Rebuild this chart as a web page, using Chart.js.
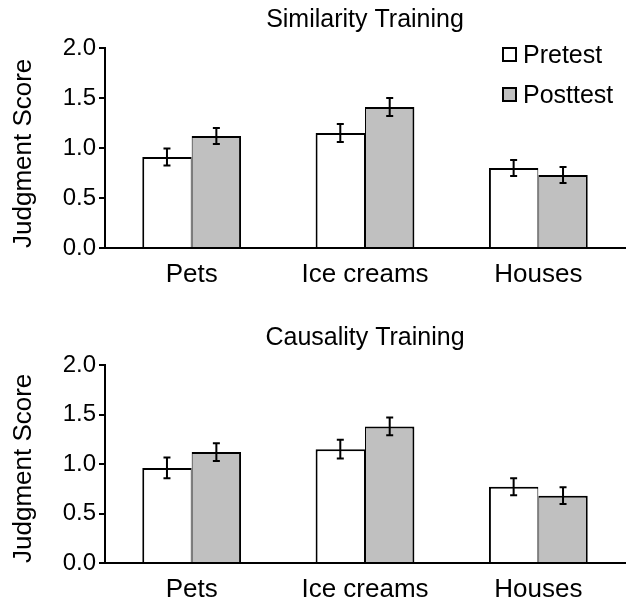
<!DOCTYPE html>
<html>
<head>
<meta charset="utf-8">
<script src="https://cdn.jsdelivr.net/npm/chart.js@4.4.1/dist/chart.umd.min.js"></script>
<style>
  html, body { margin: 0; padding: 0; background: #fff; }
  .panel { position: relative; width: 632px; }
</style>
</head>
<body>
<div class="panel" style="height:300px"><canvas id="simChart" width="632" height="300"></canvas></div>
<div class="panel" style="height:301px"><canvas id="causChart" width="632" height="301"></canvas></div>
<script>
// categories and series
var categories = ['Pets', 'Ice creams', 'Houses'];
var seriesNames = ['Pretest', 'Posttest'];
var yTicks = [0, 0.5, 1.0, 1.5, 2.0];

var simPre = [0.91, 1.15, 0.80];
var simPreErr = [0.085, 0.09, 0.08];
var simPost = [1.12, 1.41, 0.73];
var simPostErr = [0.08, 0.09, 0.08];

var causPre = [0.96, 1.15, 0.77];
var causPreErr = [0.105, 0.095, 0.085];
var causPost = [1.12, 1.38, 0.68];
var causPostErr = [0.09, 0.09, 0.085];

(function () {
  'use strict';

  var FONT = "'Liberation Sans', Arial, Helvetica, sans-serif";
  var fillColors = ['#ffffff', '#c0c0c0'];

  Chart.defaults.font.family = FONT;
  Chart.defaults.color = '#000';

  /* ---- error bars drawn from dataset.errors through the y scale ---- */
  var errorBars = {
    id: 'errorBars',
    afterDatasetsDraw: function (chart) {
      var ctx = chart.ctx;
      var y = chart.scales.y;
      ctx.save();
      ctx.strokeStyle = '#000';
      ctx.lineWidth = 2;
      chart.data.datasets.forEach(function (ds, di) {
        var meta = chart.getDatasetMeta(di);
        meta.data.forEach(function (bar, i) {
          var v = ds.data[i], e = ds.errors[i];
          var yt = y.getPixelForValue(v + e), yb = y.getPixelForValue(v - e);
          var cap = 3.5;
          ctx.beginPath();
          ctx.moveTo(bar.x, yt); ctx.lineTo(bar.x, yb);
          ctx.moveTo(bar.x - cap, yt); ctx.lineTo(bar.x + cap, yt);
          ctx.moveTo(bar.x - cap, yb); ctx.lineTo(bar.x + cap, yb);
          ctx.stroke();
        });
      });
      ctx.restore();
    }
  };

  /* ---- legend inside top-right of the chart area ---- */
  var boxLegend = {
    id: 'boxLegend',
    afterDraw: function (chart, args, opts) {
      if (!opts.show) return;
      var ctx = chart.ctx, area = chart.chartArea;
      ctx.save();
      ctx.font = '25px ' + FONT;
      ctx.textBaseline = 'middle';
      chart.data.datasets.forEach(function (ds, i) {
        var bx = area.right - 122, cy = area.top + 7 + i * 40;
        ctx.fillStyle = ds.backgroundColor;
        ctx.fillRect(bx, cy - 7, 13, 13);
        ctx.strokeStyle = '#000';
        ctx.lineWidth = 2;
        ctx.strokeRect(bx, cy - 7, 13, 13);
        ctx.fillStyle = '#000';
        ctx.fillText(ds.label, bx + 20, cy + 1);
      });
      ctx.restore();
    }
  };

  function makeChart(id, title, pre, preErr, post, postErr, showLegend, titlePad, xHeight) {
    var canvas = document.getElementById(id);
    return new Chart(canvas.getContext('2d'), {
      type: 'bar',
      data: {
        labels: categories,
        datasets: [{
          label: seriesNames[0],
          data: pre,
          errors: preErr,
          backgroundColor: fillColors[0],
          borderColor: '#000',
          borderWidth: { top: 2, left: 2, right: 1, bottom: 0 },
          borderSkipped: false
        }, {
          label: seriesNames[1],
          data: post,
          errors: postErr,
          backgroundColor: fillColors[1],
          borderColor: '#000',
          borderWidth: { top: 2, left: 1, right: 2, bottom: 0 },
          borderSkipped: false
        }]
      },
      options: {
        responsive: false,
        animation: false,
        categoryPercentage: 0.57,
        barPercentage: 1.0,
        layout: { padding: { left: 0, right: 7, top: 0, bottom: 0 } },
        plugins: {
          legend: { display: false },
          tooltip: { enabled: false },
          boxLegend: { show: showLegend },
          title: {
            display: true,
            fullSize: false,
            text: title,
            color: '#000',
            font: { size: 25, weight: 'normal', family: FONT },
            padding: titlePad
          }
        },
        scales: {
          x: {
            grid: { display: false },
            border: { color: '#000', width: 2 },
            ticks: { color: '#000', font: { size: 26 }, padding: 3 },
            afterFit: function (s) { s.height = xHeight; }
          },
          y: {
            min: 0,
            max: 2,
            afterBuildTicks: function (s) {
              s.ticks = yTicks.map(function (v) { return { value: v }; });
            },
            grid: { drawOnChartArea: false, color: '#000', lineWidth: 2, tickLength: 6 },
            border: { color: '#000', width: 2 },
            ticks: {
              color: '#000',
              font: { size: 24 },
              padding: 3,
              callback: function (v) { return Number(v).toFixed(1); }
            },
            title: {
              display: true,
              text: 'Judgment Score',
              color: '#000',
              align: 'start',
              font: { size: 26 },
              padding: { top: 8, bottom: 0 }
            },
            afterFit: function (s) { s.width = 105; }
          }
        }
      },
      plugins: [errorBars, boxLegend]
    });
  }

  makeChart('simChart', 'Similarity Training', simPre, simPreErr, simPost, simPostErr, true,
    { top: 5, bottom: 13 }, 52);
  makeChart('causChart', 'Causality Training', causPre, causPreErr, causPost, causPostErr, false,
    { top: 23, bottom: 12 }, 38);
})();
</script>
</body>
</html>
